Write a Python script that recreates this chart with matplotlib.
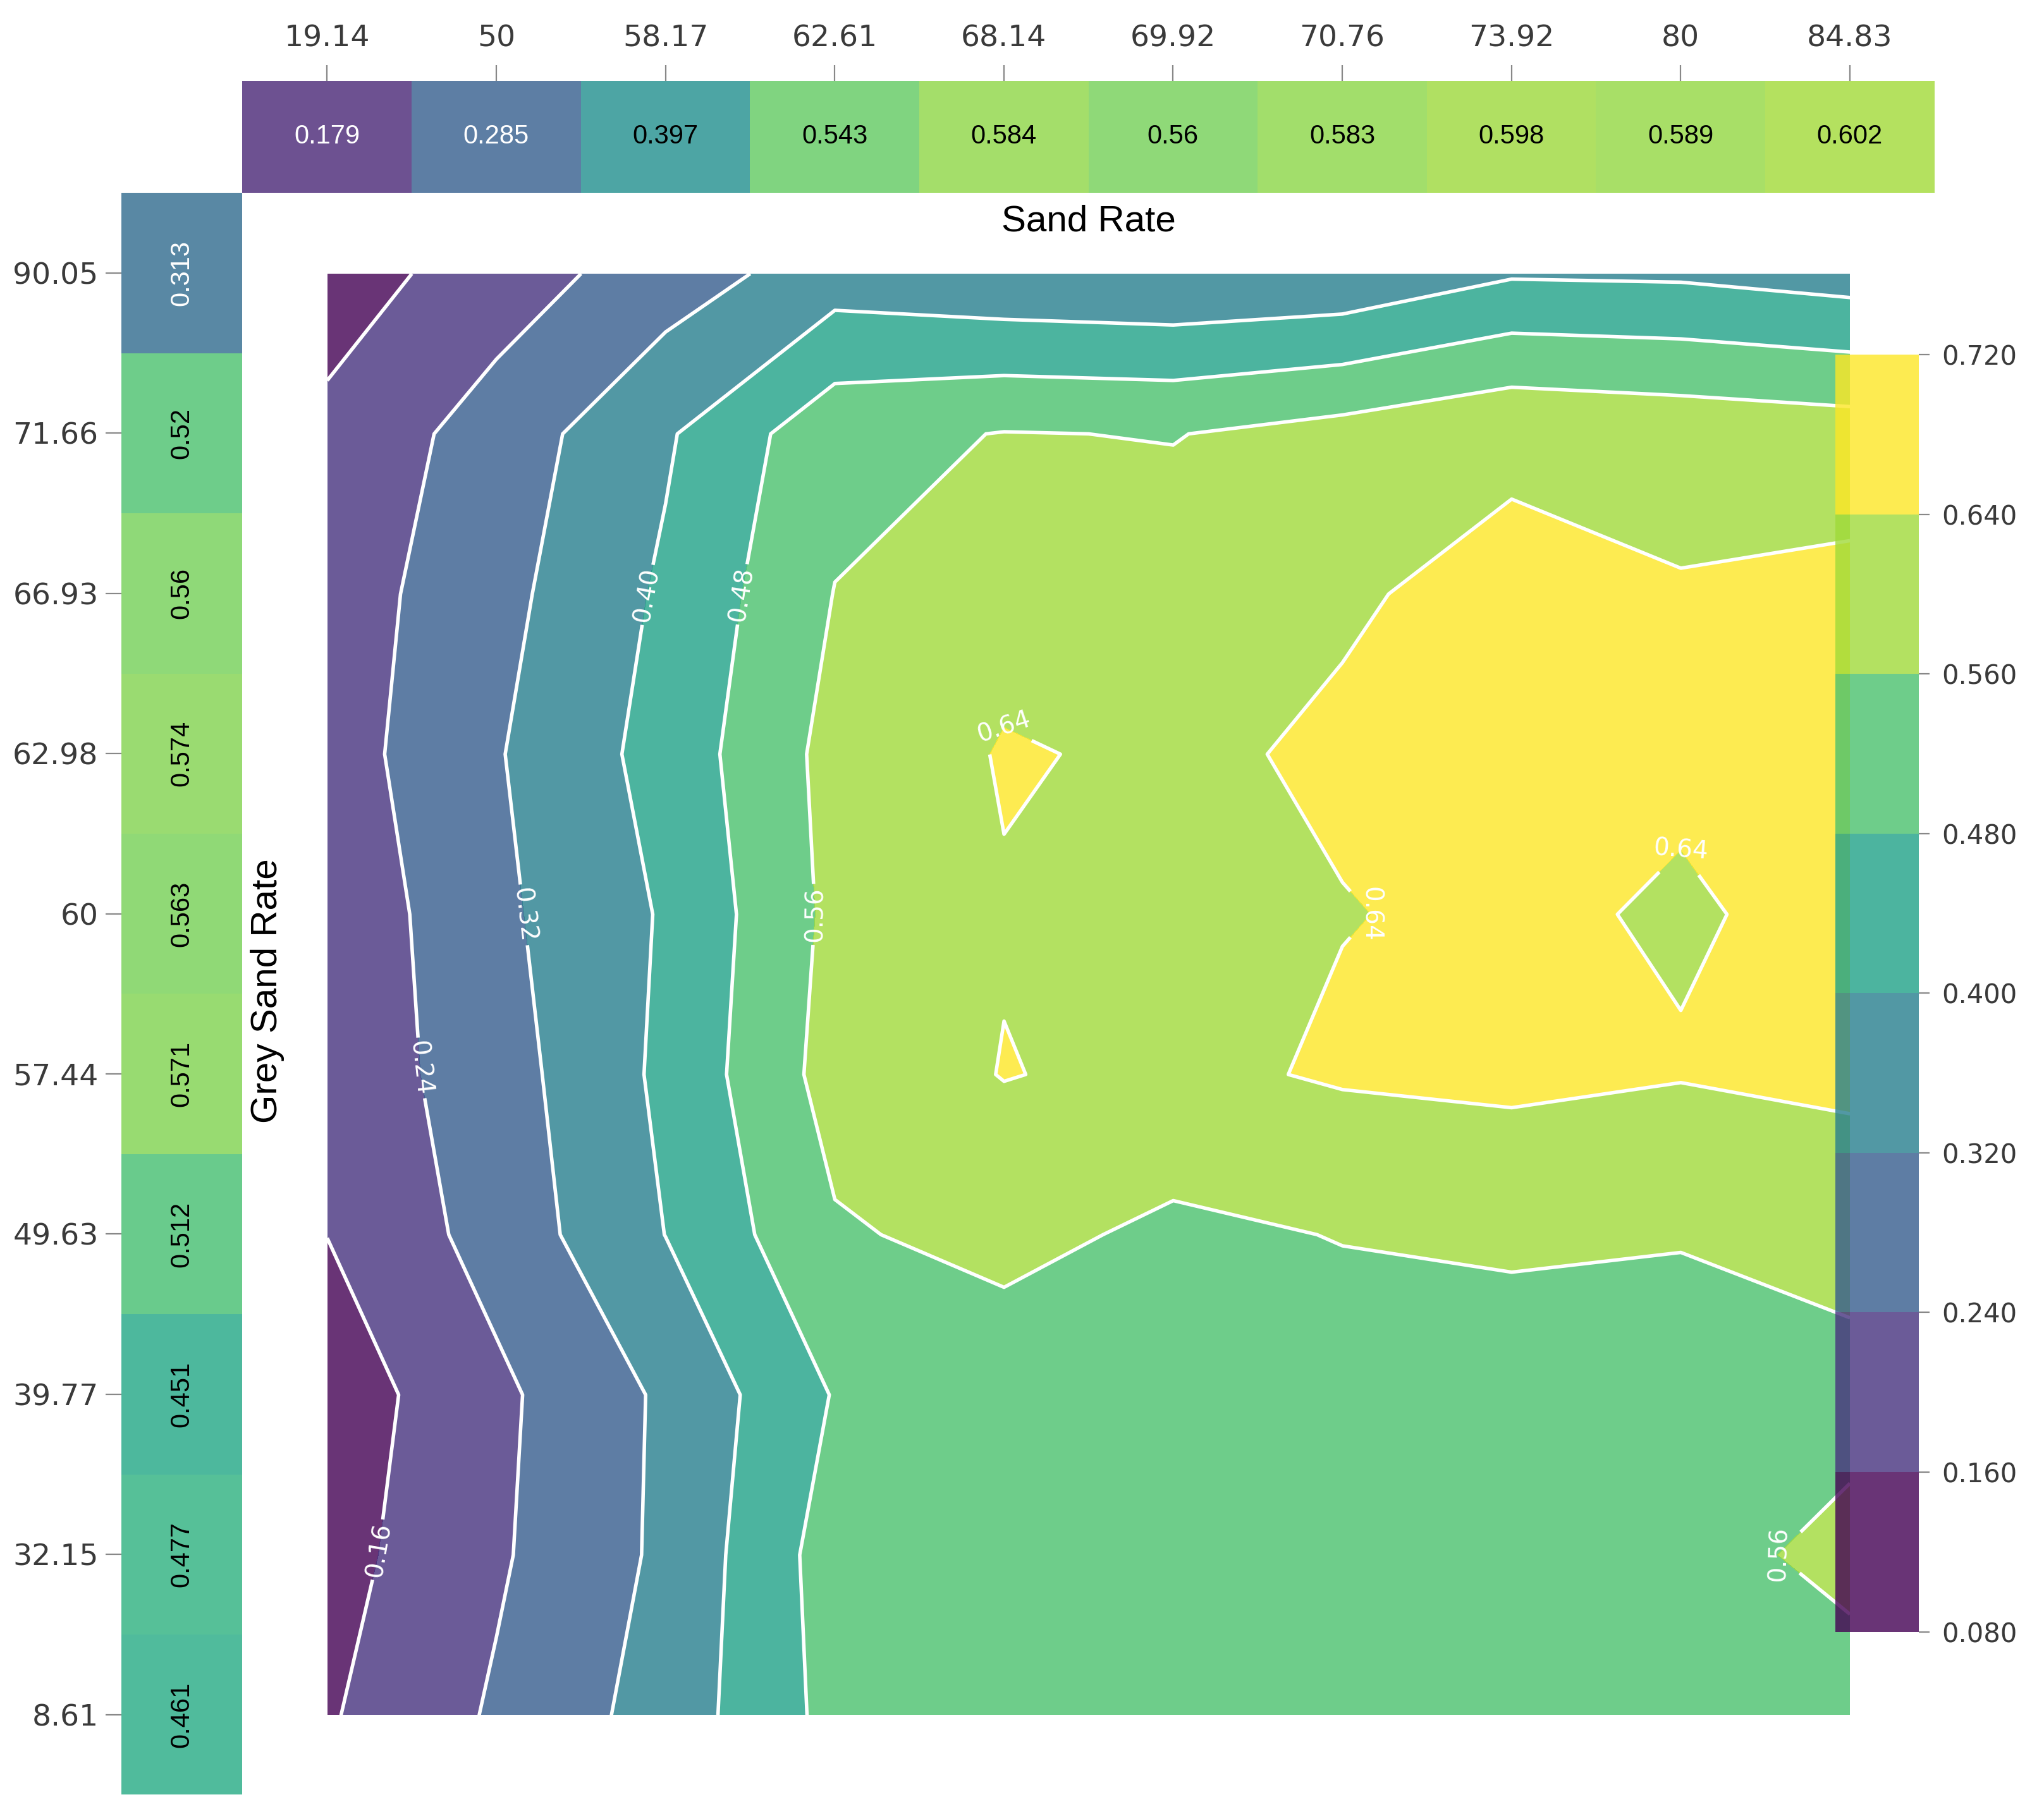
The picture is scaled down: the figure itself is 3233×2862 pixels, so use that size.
import numpy as np
import matplotlib
matplotlib.use("Agg")
import matplotlib.pyplot as plt
from matplotlib.colors import Normalize

sand_rate = ["19.14", "50", "58.17", "62.61", "68.14",
             "69.92", "70.76", "73.92", "80", "84.83"]
grey_sand_rate = ["90.05", "71.66", "66.93", "62.98", "60",
                  "57.44", "49.63", "39.77", "32.15", "8.61"]

sand_rate_mean = [0.179, 0.285, 0.397, 0.543, 0.584, 0.56, 0.583, 0.598, 0.589, 0.602]
grey_rate_mean = [0.313, 0.52, 0.56, 0.574, 0.563, 0.571, 0.512, 0.451, 0.477, 0.461]

# rows follow grey_sand_rate (90.05 first), columns follow sand_rate
rate_grid = [
    [0.120, 0.200, 0.280, 0.360, 0.335, 0.326, 0.336, 0.392, 0.388, 0.365],
    [0.180, 0.275, 0.390, 0.535, 0.563, 0.557, 0.590, 0.629, 0.614, 0.600],
    [0.198, 0.295, 0.413, 0.562, 0.615, 0.600, 0.634, 0.656, 0.645, 0.660],
    [0.202, 0.314, 0.430, 0.586, 0.645, 0.630, 0.648, 0.665, 0.649, 0.670],
    [0.180, 0.303, 0.408, 0.580, 0.635, 0.615, 0.638, 0.650, 0.634, 0.656],
    [0.186, 0.284, 0.417, 0.592, 0.6425, 0.623, 0.648, 0.657, 0.644, 0.653],
    [0.161, 0.271, 0.401, 0.551, 0.584, 0.543, 0.563, 0.575, 0.565, 0.600],
    [0.114, 0.223, 0.333, 0.485, 0.511, 0.520, 0.520, 0.511, 0.520, 0.523],
    [0.130, 0.2295, 0.335, 0.518, 0.520, 0.520, 0.520, 0.520, 0.520, 0.590],
    [0.152, 0.250, 0.353, 0.505, 0.510, 0.520, 0.520, 0.520, 0.520, 0.509],
]

levels = np.linspace(0.08, 0.72, 9)
# where the inline contour labels go (grid index coords)
label_spots = [(1.86, 7.0), (2.44, 7.0), (1.19, 5.0), (0.55, 4.04), (2.87, 5.0),
               (0.32, 1.03), (4.0, 6.23), (6.27, 5.0), (8.0, 5.42), (8.56, 1.03)]

tick_color = "#3a3a3a"
text_font = ["Liberation Sans", "DejaVu Sans"]

fig = plt.figure(figsize=(16.165, 14.31), dpi=200)
norm = Normalize(vmin=0.12, vmax=0.68)

# main contour
ax = fig.add_axes([0.1601, 0.0519, 0.745, 0.7968])
xs = np.arange(len(sand_rate))
ys = np.arange(len(grey_sand_rate))
z = np.array(rate_grid)[::-1]
cf = ax.contourf(xs, ys, z, levels=levels, cmap="viridis", norm=norm, alpha=0.8)
cs = ax.contour(xs, ys, z, levels=levels, colors="white", linewidths=2.0)
ax.clabel(cs, fmt="%.2f", fontsize=14, colors="white", inline=True, manual=label_spots)
ax.set_xlim(0, 9)
ax.set_ylim(0, 9)
ax.set_axis_off()

# top strip
ax_top = fig.add_axes([0.1186, 0.8934, 0.8278, 0.062])
ax_top.pcolormesh(np.arange(11) - 0.5, [0, 1], np.array([sand_rate_mean]),
                  cmap="viridis", norm=norm, alpha=0.8)
for i, v in enumerate(sand_rate_mean):
    ax_top.text(i, 0.5, str(v), ha="center", va="center", fontsize=15,
                family=text_font, color="white" if v < 0.35 else "black")
ax_top.set_xlim(-0.5, 9.5)
ax_top.set_ylim(0, 1)
ax_top.set_xticks(xs)
ax_top.set_xticklabels(sand_rate)
ax_top.set_yticks([])
ax_top.xaxis.tick_top()
ax_top.tick_params(axis="x", labelsize=17, colors=tick_color, length=9, width=0.8, pad=7)
ax_top.tick_params(axis="x", color="#888888")
for s in ax_top.spines.values():
    s.set_visible(False)

# left strip
ax_left = fig.add_axes([0.0593, 0.0079, 0.0593, 0.8854])
ax_left.pcolormesh([0, 1], np.arange(11) - 0.5, np.array([grey_rate_mean]).T,
                   cmap="viridis", norm=norm, alpha=0.8)
for i, v in enumerate(grey_rate_mean):
    ax_left.text(0.5, i, str(v), ha="center", va="center", fontsize=15, rotation=90,
                 family=text_font, color="white" if v < 0.35 else "black")
ax_left.set_xlim(0, 1)
ax_left.set_ylim(9.5, -0.5)
ax_left.set_yticks(ys)
ax_left.set_yticklabels(grey_sand_rate)
ax_left.set_xticks([])
ax_left.tick_params(axis="y", labelsize=17, colors=tick_color, length=9, width=0.8, pad=4)
ax_left.tick_params(axis="y", color="#888888")
for s in ax_left.spines.values():
    s.set_visible(False)

fig.text(0.5325, 0.8775, "Sand Rate", ha="center", va="center", fontsize=21, family=text_font)
fig.text(0.1307, 0.4524, "Grey Sand Rate", ha="center", va="center", fontsize=21,
         rotation=90, family=text_font)

# colorbar sits over the right edge of the contour
cax = fig.add_axes([0.898, 0.098, 0.0408, 0.706])
cax.set_facecolor("none")
cb = fig.colorbar(cf, cax=cax, ticks=levels, format="%.3f")
cb.outline.set_visible(False)
cax.tick_params(labelsize=15, colors=tick_color, length=6, width=0.8, pad=7)
cax.tick_params(color="#888888")

fig.savefig("out.png", dpi=200)
